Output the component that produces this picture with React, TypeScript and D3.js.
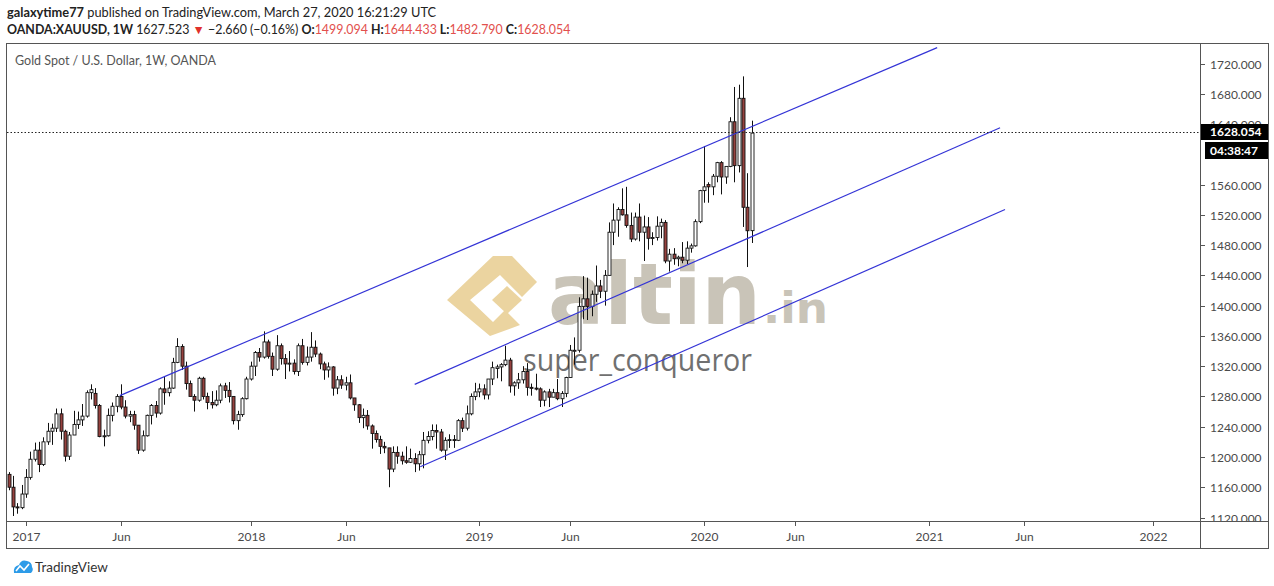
import { useEffect, useRef } from "react";
import * as d3 from "d3";

// ── Data (weekly XAUUSD, first bar = week of 2016-12-05) ─────────────────────
const firstWeek = "2016-12-05";

const opens = [
  1177, 1160, 1134, 1133, 1151, 1173, 1197, 1209, 1190, 1220, 1234, 1238, 1257, 1234, 1201, 1229, 1243, 1249, 1254, 1285,
  1284, 1268, 1227, 1228, 1255, 1267, 1280, 1266, 1254, 1256, 1242, 1209, 1228, 1255, 1268, 1258, 1290, 1285, 1291, 1325,
  1346, 1320, 1297, 1280, 1275, 1304, 1280, 1272, 1269, 1275, 1294, 1288, 1280, 1248, 1256, 1277, 1303, 1320, 1338, 1332,
  1352, 1333, 1316, 1347, 1330, 1323, 1324, 1313, 1347, 1325, 1332, 1345, 1336, 1323, 1315, 1319, 1291, 1302, 1295, 1298,
  1278, 1269, 1252, 1255, 1241, 1231, 1223, 1214, 1212, 1184, 1206, 1201, 1195, 1193, 1198, 1191, 1203, 1222, 1227, 1235,
  1233, 1209, 1222, 1223, 1222, 1248, 1238, 1257, 1280, 1286, 1290, 1282, 1303, 1317, 1319, 1322, 1328, 1294, 1298, 1302,
  1313, 1292, 1291, 1290, 1275, 1286, 1279, 1285, 1277, 1284, 1305, 1341, 1341, 1399, 1409, 1399, 1415, 1426, 1419, 1440,
  1497, 1513, 1527, 1520, 1506, 1488, 1517, 1497, 1504, 1489, 1490, 1505, 1510, 1459, 1468, 1462, 1464, 1460, 1476, 1479,
  1511, 1552, 1560, 1557, 1571, 1589, 1570, 1584, 1643, 1585, 1674, 1530, 1499.094,
];
const highs = [
  1180, 1175, 1139, 1163, 1184, 1207, 1219, 1220, 1226, 1245, 1244, 1264, 1264, 1236, 1233, 1261, 1260, 1270, 1288, 1296,
  1291, 1270, 1236, 1264, 1272, 1283, 1296, 1275, 1261, 1261, 1242, 1235, 1256, 1270, 1274, 1292, 1306, 1300, 1331, 1357,
  1349, 1326, 1301, 1283, 1306, 1306, 1285, 1287, 1288, 1297, 1298, 1299, 1280, 1261, 1279, 1306, 1326, 1340, 1344, 1366,
  1355, 1338, 1361, 1350, 1336, 1340, 1329, 1350, 1356, 1346, 1365, 1354, 1338, 1326, 1325, 1320, 1307, 1308, 1306, 1309,
  1278, 1270, 1264, 1262, 1243, 1235, 1228, 1220, 1212, 1214, 1214, 1207, 1214, 1211, 1205, 1208, 1233, 1234, 1243, 1243,
  1237, 1226, 1230, 1229, 1250, 1252, 1268, 1284, 1298, 1297, 1296, 1303, 1326, 1322, 1324, 1347, 1331, 1300, 1311, 1320,
  1324, 1297, 1310, 1292, 1288, 1290, 1290, 1303, 1287, 1306, 1348, 1358, 1411, 1439, 1437, 1420, 1453, 1434, 1447, 1510,
  1535, 1530, 1555, 1557, 1523, 1523, 1535, 1519, 1517, 1497, 1518, 1515, 1513, 1475, 1476, 1466, 1484, 1485, 1482, 1514,
  1553, 1611, 1563, 1574, 1590, 1591, 1584, 1649, 1689, 1692, 1703, 1575, 1644.433,
];
const lows = [
  1156, 1122, 1125, 1131, 1146, 1170, 1194, 1180, 1188, 1216, 1216, 1233, 1223, 1194, 1196, 1229, 1237, 1241, 1252, 1276,
  1264, 1226, 1214, 1227, 1247, 1259, 1263, 1251, 1246, 1236, 1204, 1207, 1227, 1243, 1252, 1256, 1269, 1280, 1290, 1324,
  1315, 1289, 1280, 1260, 1273, 1276, 1263, 1264, 1267, 1271, 1278, 1272, 1243, 1236, 1253, 1276, 1301, 1307, 1326, 1330,
  1330, 1307, 1314, 1322, 1303, 1313, 1309, 1307, 1322, 1321, 1326, 1332, 1316, 1302, 1305, 1281, 1283, 1290, 1288, 1276,
  1261, 1245, 1238, 1236, 1211, 1219, 1204, 1205, 1160, 1180, 1191, 1190, 1191, 1192, 1180, 1182, 1185, 1218, 1222, 1211,
  1207, 1196, 1212, 1212, 1221, 1233, 1235, 1255, 1275, 1279, 1276, 1276, 1295, 1304, 1300, 1320, 1285, 1281, 1290, 1297,
  1281, 1281, 1288, 1266, 1267, 1266, 1279, 1275, 1266, 1279, 1305, 1322, 1338, 1382, 1381, 1386, 1405, 1410, 1400, 1440,
  1480, 1491, 1519, 1503, 1484, 1486, 1485, 1459, 1474, 1480, 1486, 1489, 1456, 1445, 1454, 1452, 1456, 1455, 1470, 1478,
  1509, 1536, 1536, 1546, 1563, 1547, 1561, 1583, 1563, 1576, 1504, 1451, 1482.79,
];
const closes = [
  1160, 1134, 1133, 1151, 1173, 1197, 1209, 1190, 1220, 1234, 1238, 1257, 1234, 1201, 1229, 1243, 1249, 1254, 1285, 1289,
  1268, 1227, 1228, 1255, 1267, 1280, 1266, 1254, 1256, 1242, 1209, 1228, 1255, 1268, 1258, 1290, 1285, 1291, 1325, 1346,
  1320, 1297, 1280, 1275, 1304, 1280, 1272, 1269, 1275, 1294, 1288, 1280, 1248, 1256, 1277, 1303, 1320, 1338, 1332, 1352,
  1333, 1316, 1347, 1330, 1323, 1324, 1313, 1347, 1325, 1332, 1345, 1336, 1323, 1315, 1319, 1291, 1302, 1295, 1298, 1278,
  1269, 1252, 1255, 1241, 1231, 1223, 1214, 1212, 1184, 1206, 1201, 1195, 1193, 1198, 1191, 1203, 1222, 1227, 1235, 1233,
  1209, 1222, 1223, 1222, 1248, 1238, 1257, 1280, 1286, 1290, 1282, 1303, 1318, 1319, 1322, 1328, 1294, 1298, 1302, 1313,
  1292, 1291, 1290, 1275, 1286, 1279, 1285, 1277, 1284, 1305, 1341, 1341, 1399, 1409, 1399, 1415, 1426, 1419, 1440, 1497,
  1513, 1527, 1520, 1506, 1488, 1517, 1497, 1504, 1489, 1490, 1505, 1510, 1459, 1468, 1462, 1464, 1460, 1476, 1479, 1511,
  1552, 1557, 1557, 1571, 1589, 1570, 1584, 1643, 1585, 1674, 1530, 1499, 1628.054,
];

const lastPrice = 1628.054;
const countdown = "04:38:47";

// 1600 sits fully under the countdown box in the reference, so it is not listed
const priceTicks = [1120, 1160, 1200, 1240, 1280, 1320, 1360, 1400, 1440, 1480, 1520, 1560, 1640, 1680, 1720];

const timeTickDates = [
  "2017-01-02", "2017-06-05", "2018-01-01", "2018-06-04", "2019-01-07", "2019-06-03",
  "2020-01-06", "2020-06-01", "2021-01-04", "2021-06-07", "2022-01-03",
];
const timeTickLabels = ["2017", "Jun", "2018", "Jun", "2019", "Jun", "2020", "Jun", "2021", "Jun", "2022"];

// channel lines: start/end as [date, price]
const lineStartDates = ["2017-06-03", "2018-09-24", "2018-10-03"];
const lineStartPrices = [1281, 1296, 1187];
const lineEndDates = ["2021-01-18", "2021-04-30", "2021-05-08"];
const lineEndPrices = [1741, 1635, 1527];

// ── Component ───────────────────────────────────────────────────────────────
export default function App() {
  const svgRef = useRef<SVGSVGElement>(null);

  useEffect(() => {
    if (!svgRef.current) return;
    const width = 1274;
    const height = 586;
    const font = "Lato, 'Open Sans', sans-serif";
    const pane = { left: 7, right: 1200, top: 44, bottom: 521 };

    const parse = d3.utcParse("%Y-%m-%d");
    const start = parse(firstWeek) as Date;
    const dates = closes.map((_, i) => d3.utcWeek.offset(start, i));

    const x = d3
      .scaleUtc()
      .domain([start, dates[dates.length - 1]])
      .range([8.8, 751.5]);
    const y = d3.scaleLinear().domain([1120, 1720]).range([517.5, 63.5]);

    const svg = d3.select(svgRef.current);
    svg.selectAll("*").remove();
    svg.attr("width", width).attr("height", height);

    svg.append("rect").attr("width", width).attr("height", height).attr("fill", "#fff");

    // ── Header ──────────────────────────────────────────────────────────────
    const h1 = svg.append("text").attr("x", 7).attr("y", 17).attr("font-family", font)
      .attr("font-size", 12.8).attr("fill", "#222");
    h1.append("tspan").attr("font-weight", 700).text("galaxytime77");
    h1.append("tspan").text(" published on TradingView.com, March 27, 2020 16:21:29 UTC");

    const red = "#e2504d";
    const h2 = svg.append("text").attr("x", 7).attr("y", 34).attr("font-family", font)
      .attr("font-size", 12.4).attr("fill", "#222");
    h2.append("tspan").attr("font-weight", 700).text("OANDA:XAUUSD, 1W");
    h2.append("tspan").text("  1627.523 ");
    h2.append("tspan").attr("fill", "#e0312c").text("▼");
    h2.append("tspan").text(" −2.660 (−0.16%) ");
    const ohlc: [string, number][] = [["O:", 1499.094], ["H:", 1644.433], ["L:", 1482.79], ["C:", 1628.054]];
    ohlc.forEach(([k, v], i) => {
      h2.append("tspan").attr("font-weight", 700).text((i ? " " : "") + k);
      h2.append("tspan").attr("fill", red).text(v.toFixed(3));
    });

    // ── Frame ───────────────────────────────────────────────────────────────
    svg.append("rect").attr("x", 6.5).attr("y", 43.5).attr("width", 1262).attr("height", 505)
      .attr("fill", "none").attr("stroke", "#555");
    svg.append("line").attr("x1", 1200.5).attr("x2", 1200.5).attr("y1", 43.5).attr("y2", 548.5).attr("stroke", "#555");
    svg.append("line").attr("x1", 6.5).attr("x2", 1268.5).attr("y1", 521.5).attr("y2", 521.5).attr("stroke", "#555");

    svg.append("text").attr("x", 15).attr("y", 65).attr("font-family", font).attr("font-size", 12.5)
      .attr("fill", "#555").text("Gold Spot / U.S. Dollar, 1W, OANDA");

    const defs = svg.append("defs");
    defs.append("clipPath").attr("id", "pane").append("rect")
      .attr("x", pane.left).attr("y", pane.top)
      .attr("width", pane.right - pane.left).attr("height", pane.bottom - pane.top);
    defs.append("clipPath").attr("id", "axis").append("rect")
      .attr("x", 1201).attr("y", pane.top).attr("width", 67).attr("height", pane.bottom - pane.top);

    // ── Watermark ───────────────────────────────────────────────────────────
    const wm = svg.append("g").attr("clip-path", "url(#pane)");
    const logo = wm.append("g").attr("fill", "#e8cd90").attr("opacity", 0.85);
    logo.append("path")
      .attr("d", "M447,300 L493,256 L512,256 L537,282 L522,297 L500,275 L470,300 L493,322 L505,310 L520,325 L490,336 Z");
    logo.append("path").attr("d", "M492,300 L507,286 L522,300 L507,314 Z");
    wm.append("text").attr("x", 548).attr("y", 324).attr("font-family", "'DejaVu Sans', sans-serif")
      .attr("font-weight", 700).attr("font-size", 86).attr("fill", "#c9c4b8")
      .attr("textLength", 213).attr("lengthAdjust", "spacingAndGlyphs").text("altin");
    wm.append("text").attr("x", 763).attr("y", 323).attr("font-family", "'DejaVu Sans', sans-serif")
      .attr("font-weight", 700).attr("font-size", 42).attr("fill", "#c9c4b8")
      .attr("textLength", 65).attr("lengthAdjust", "spacingAndGlyphs").text(".in");
    wm.append("text").attr("x", 523).attr("y", 371).attr("font-family", "'Open Sans', sans-serif")
      .attr("font-size", 31).attr("fill", "#707070")
      .attr("textLength", 229).attr("lengthAdjust", "spacingAndGlyphs").text("super_conqueror");

    // ── Candles ─────────────────────────────────────────────────────────────
    const plot = svg.append("g").attr("clip-path", "url(#pane)");
    const bars = plot.selectAll("g.bar").data(dates).enter().append("g").attr("class", "bar");
    bars.append("line")
      .attr("x1", (d) => Math.round(x(d)) + 0.5).attr("x2", (d) => Math.round(x(d)) + 0.5)
      .attr("y1", (_, i) => y(highs[i])).attr("y2", (_, i) => y(lows[i]))
      .attr("stroke", "#111").attr("stroke-width", 1);
    bars.append("rect")
      .attr("x", (d) => Math.round(x(d)) - 1)
      .attr("width", 3)
      .attr("y", (_, i) => y(Math.max(opens[i], closes[i])))
      .attr("height", (_, i) => Math.max(1, Math.abs(y(opens[i]) - y(closes[i]))))
      .attr("fill", (_, i) => (closes[i] >= opens[i] ? "#fff" : "#96423f"))
      .attr("stroke", "#111").attr("stroke-width", 0.9);

    // ── Channel lines ───────────────────────────────────────────────────────
    lineStartDates.forEach((sd, k) => {
      plot.append("line")
        .attr("x1", x(parse(sd) as Date)).attr("y1", y(lineStartPrices[k]))
        .attr("x2", x(parse(lineEndDates[k]) as Date)).attr("y2", y(lineEndPrices[k]))
        .attr("stroke", "#3434d6").attr("stroke-width", 1.2);
    });

    // last price dotted line
    plot.append("line").attr("x1", pane.left).attr("x2", pane.right)
      .attr("y1", Math.round(y(lastPrice)) - 0.5).attr("y2", Math.round(y(lastPrice)) - 0.5)
      .attr("stroke", "#222").attr("stroke-dasharray", "1.5,2");

    // ── Price axis ──────────────────────────────────────────────────────────
    const ax = svg.append("g").attr("clip-path", "url(#axis)");
    priceTicks.forEach((p) => {
      const yy = Math.round(y(p)) + 0.5;
      ax.append("line").attr("x1", 1201).attr("x2", 1205).attr("y1", yy).attr("y2", yy).attr("stroke", "#555");
      ax.append("text").attr("x", 1210).attr("y", yy).attr("dy", "0.35em").attr("font-family", font)
        .attr("font-size", 12).attr("fill", "#4a4a4a").text(p.toFixed(3));
    });
    const ly = Math.round(y(lastPrice)) - 1;
    ax.append("rect").attr("x", 1201).attr("y", ly - 8).attr("width", 67).attr("height", 16).attr("fill", "#000");
    ax.append("text").attr("x", 1210).attr("y", ly).attr("dy", "0.35em").attr("font-family", font)
      .attr("font-size", 12).attr("font-weight", 700).attr("fill", "#fff").text(lastPrice.toFixed(3));
    ax.append("rect").attr("x", 1205).attr("y", ly + 10).attr("width", 63).attr("height", 17).attr("fill", "#000");
    ax.append("text").attr("x", 1210).attr("y", ly + 18.5).attr("dy", "0.35em").attr("font-family", font)
      .attr("font-size", 12).attr("font-weight", 700).attr("fill", "#fff").text(countdown);

    // ── Time axis ───────────────────────────────────────────────────────────
    timeTickDates.forEach((td, i) => {
      const xx = Math.round(x(parse(td) as Date)) + 0.5;
      svg.append("line").attr("x1", xx).attr("x2", xx).attr("y1", 522).attr("y2", 526).attr("stroke", "#555");
      svg.append("text").attr("x", xx).attr("y", 537).attr("dy", "0.35em").attr("text-anchor", "middle")
        .attr("font-family", font).attr("font-size", 12).attr("fill", "#4a4a4a").text(timeTickLabels[i]);
    });

    // ── Footer logo ─────────────────────────────────────────────────────────
    const tv = svg.append("g");
    tv.append("path").attr("fill", "#2d9be8")
      .attr("d", "M14,573 Q13,566 19,565 Q21,559 27,561 Q32,562 32,567 Q34,570 31,573 Z");
    tv.append("polyline").attr("points", "16,571 20,566 24,570 29,564")
      .attr("fill", "none").attr("stroke", "#fff").attr("stroke-width", 1.6);
    tv.append("text").attr("x", 35).attr("y", 572).attr("font-family", font).attr("font-size", 13.5)
      .attr("fill", "#333").text("TradingView");
  }, []);

  return (
    <div style={{ position: "absolute", left: 0, top: 0 }}>
      <svg ref={svgRef} width={1274} height={586} style={{ display: "block" }} />
    </div>
  );
}
